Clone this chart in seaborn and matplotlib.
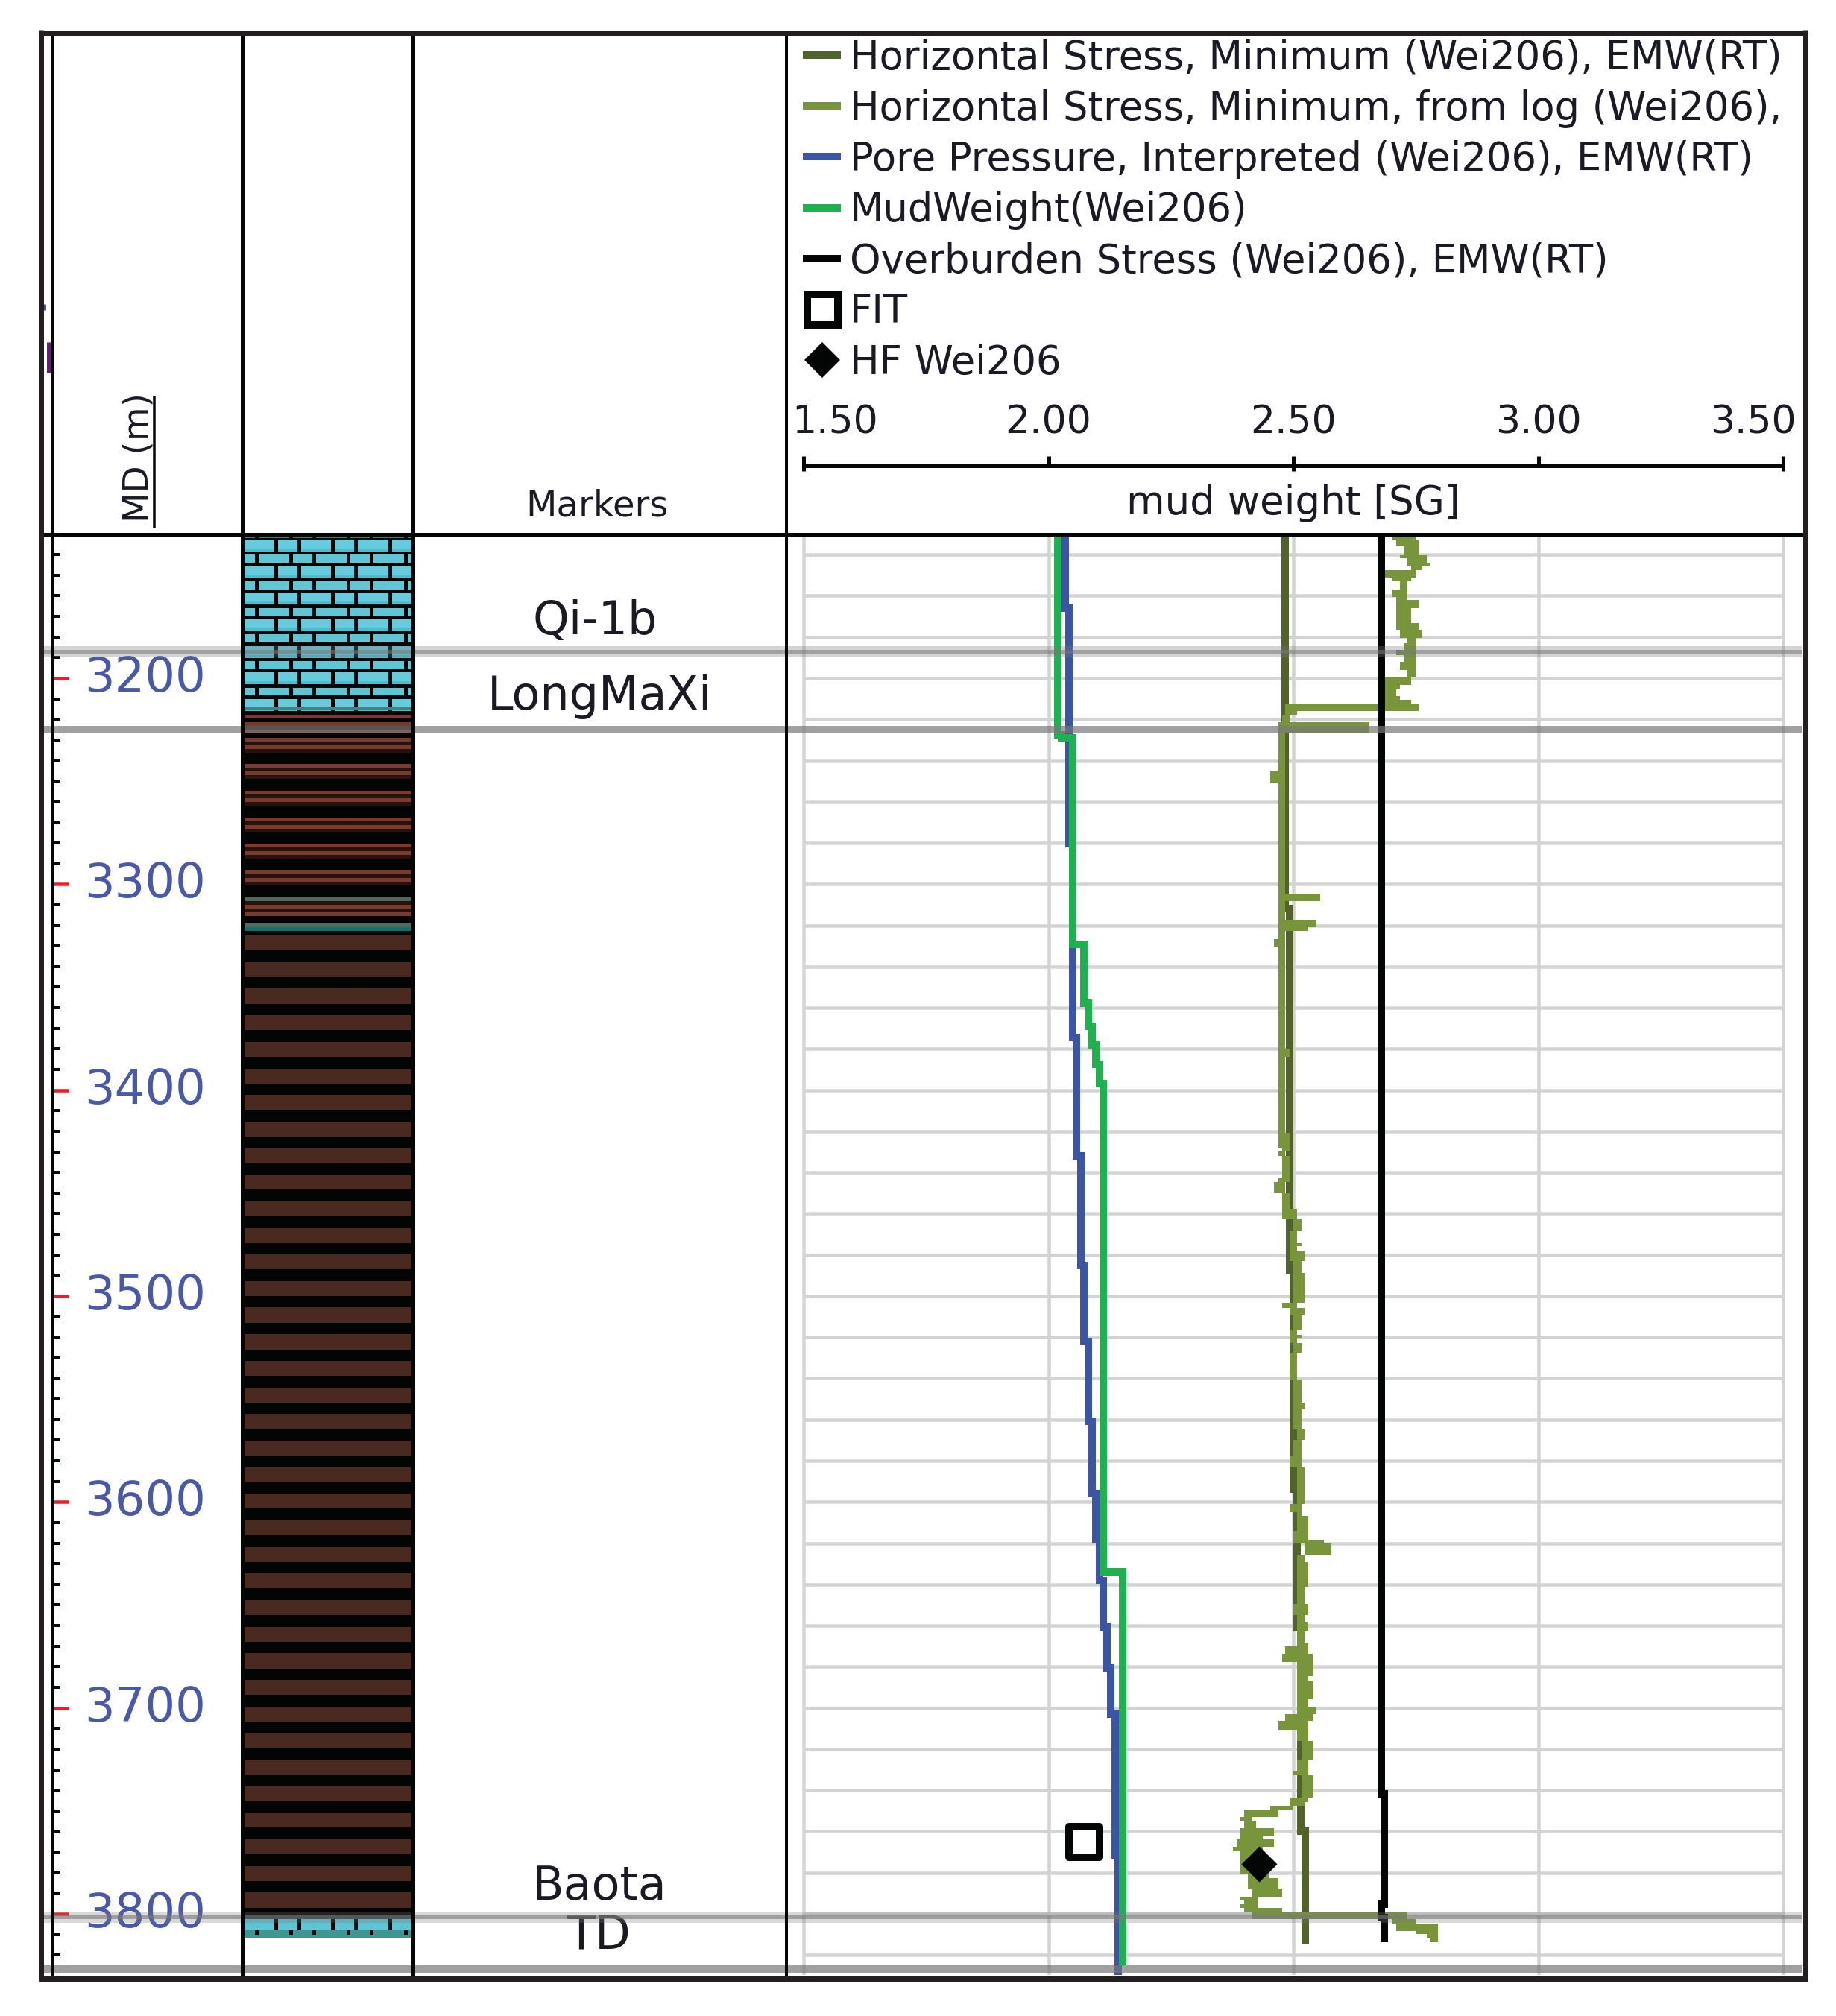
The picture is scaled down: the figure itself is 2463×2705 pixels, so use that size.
import numpy as np
import matplotlib
matplotlib.use('Agg')
import matplotlib.pyplot as plt
from matplotlib.lines import Line2D
import seaborn as sns

W, H = 2463, 2705
PX = 0.72  # one pixel in points at dpi 100

# depth scale of the tracks
depth_ticks = [3200, 3300, 3400, 3500, 3600, 3700, 3800]
depth_minor = list(range(3140, 3830, 10))
depth_top, depth_bottom = 3130.15, 3829.7
grid_depths = list(range(3140, 3830, 20))
sg_ticks = [1.50, 2.00, 2.50, 3.00, 3.50]
sg_labels = ['1.50', '2.00', '2.50', '3.00', '3.50']

# formation tops: name, depth of the label
marker_names = ['Qi-1b', 'LongMaXi', 'Baota', 'TD']
marker_label_depths = [3172.5, 3209.1, 3787.0, 3811.0]
marker_label_x = [.487, .5, .5, .497]
marker_line_depths = [3187.0, 3225.0, 3801.6, 3826.8]

# curves, values hold down to the next depth
green_depth = [3130.0, 3227.4, 3229.0, 3329.2, 3357.8, 3369.0, 3378.0, 3387.5, 3396.7, 3633.8]
green_sg = [2.019, 2.026, 2.049, 2.073, 2.081, 2.089, 2.096, 2.104, 2.112, 2.151]
green_end = 3825.0

blue_depth = [3130.0, 3166.0, 3280.4, 3374.4, 3431.8, 3485.2, 3522.1, 3560.7, 3595.8, 3618.3,
              3638.3, 3660.7, 3680.6, 3702.9, 3771.4]
blue_sg = [2.034, 2.042, 2.049, 2.057, 2.066, 2.073, 2.081, 2.089, 2.097, 2.104,
           2.112, 2.120, 2.127, 2.136, 2.143]
blue_end = 3829.7

black_depth = [3130.0, 3741.9, 3795.5, 3802.0]
black_sg = [2.679, 2.686, 2.679, 2.686]
black_end = 3813.7

dark_depth = [3130.0, 3311.9, 3487.2, 3593.8, 3661.0, 3760.0]
dark_sg = [2.484, 2.492, 2.500, 2.507, 2.515, 2.524]
dark_end = 3814.4

# log curve is noisy, kept as low/high per depth interval
olive_depth = [3130.0, 3132.9, 3136.1, 3140.2, 3141.8, 3144.2, 3145.8, 3147.4, 3151.1, 3153.1,
               3157.1, 3160.4, 3162.0, 3166.0, 3170.0, 3173.3, 3176.5, 3180.6, 3183.0, 3186.2,
               3188.6, 3191.9, 3195.9, 3199.1, 3203.2, 3205.6, 3208.8, 3210.4, 3212.2, 3215.8,
               3217.7, 3221.4, 3226.6, 3245.2, 3250.8, 3304.5, 3308.2, 3317.1, 3320.8, 3322.7,
               3326.5, 3330.2, 3379.7, 3383.8, 3420.6, 3428.2, 3429.8, 3431.8, 3442.7, 3444.8,
               3450.0, 3457.6, 3462.9, 3468.6, 3474.2, 3475.9, 3478.3, 3483.1, 3488.8, 3503.3,
               3505.8, 3509.0, 3516.3, 3518.7, 3520.3, 3522.7, 3527.6, 3540.5, 3551.8, 3555.0,
               3564.7, 3569.9, 3577.7, 3582.8, 3601.1, 3605.1, 3606.7, 3614.0, 3618.3, 3620.2,
               3625.5, 3629.2, 3641.3, 3649.6, 3654.9, 3658.7, 3662.5, 3668.2, 3670.1, 3673.8,
               3677.6, 3684.4, 3686.7, 3695.8, 3699.5, 3702.9, 3706.3, 3710.6, 3716.2, 3725.2,
               3730.5, 3732.8, 3743.4, 3745.7, 3747.6, 3749.4, 3752.8, 3754.7, 3758.5, 3762.3,
               3763.8, 3767.6, 3769.5, 3772.9, 3780.4, 3782.7, 3788.0, 3791.8, 3793.3, 3795.5,
               3797.1, 3799.2, 3802.5, 3804.6, 3808.4, 3809.9, 3811.9, 3813.7]
olive_low = [2.702, 2.710, 2.725, 2.718, 2.733, 2.733, 2.741, 2.687, 2.702, 2.718,
             2.702, 2.710, 2.710, 2.710, 2.710, 2.710, 2.718, 2.733, 2.725, 2.710,
             2.725, 2.718, 2.733, 2.687, 2.687, 2.687, 2.687, 2.687, 2.484, 2.484,
             2.477, 2.470, 2.470, 2.453, 2.470, 2.470, 2.470, 2.470, 2.470, 2.470,
             2.461, 2.470, 2.470, 2.470, 2.470, 2.477, 2.469, 2.477, 2.470, 2.461,
             2.477, 2.477, 2.500, 2.493, 2.493, 2.493, 2.493, 2.500, 2.500, 2.477,
             2.493, 2.500, 2.493, 2.493, 2.493, 2.500, 2.493, 2.500, 2.500, 2.500,
             2.508, 2.500, 2.493, 2.508, 2.493, 2.508, 2.508, 2.500, 2.500, 2.523,
             2.508, 2.508, 2.508, 2.500, 2.508, 2.508, 2.508, 2.508, 2.484, 2.477,
             2.508, 2.508, 2.508, 2.508, 2.508, 2.484, 2.470, 2.508, 2.516, 2.508,
             2.500, 2.516, 2.493, 2.493, 2.453, 2.400, 2.392, 2.400, 2.392, 2.392,
             2.384, 2.376, 2.392, 2.392, 2.407, 2.407, 2.416, 2.392, 2.400, 2.392,
             2.400, 2.416, 2.701, 2.710, 2.749, 2.772, 2.780, 2.780]
olive_high = [2.749, 2.756, 2.756, 2.772, 2.772, 2.780, 2.763, 2.749, 2.740, 2.733,
              2.733, 2.733, 2.756, 2.740, 2.740, 2.756, 2.763, 2.749, 2.749, 2.749,
              2.749, 2.749, 2.749, 2.740, 2.718, 2.710, 2.718, 2.740, 2.756, 2.507,
              2.492, 2.655, 2.484, 2.484, 2.484, 2.555, 2.484, 2.547, 2.530, 2.484,
              2.484, 2.484, 2.492, 2.484, 2.493, 2.493, 2.484, 2.493, 2.493, 2.484,
              2.493, 2.508, 2.516, 2.508, 2.516, 2.508, 2.523, 2.516, 2.523, 2.508,
              2.523, 2.516, 2.508, 2.516, 2.508, 2.516, 2.508, 2.516, 2.523, 2.516,
              2.523, 2.516, 2.516, 2.523, 2.516, 2.516, 2.531, 2.531, 2.562, 2.577,
              2.523, 2.531, 2.523, 2.531, 2.523, 2.531, 2.523, 2.531, 2.531, 2.539,
              2.539, 2.531, 2.539, 2.531, 2.547, 2.539, 2.531, 2.531, 2.539, 2.531,
              2.531, 2.539, 2.531, 2.523, 2.500, 2.470, 2.416, 2.424, 2.461, 2.438,
              2.461, 2.438, 2.422, 2.443, 2.450, 2.470, 2.477, 2.429, 2.429, 2.429,
              2.477, 2.733, 2.749, 2.795, 2.795, 2.795, 2.795, 2.795]

fit_sg, fit_depth = [2.073], [3764.9]
hf_sg, hf_depth = [2.430], [3775.9]

# the second label runs into the frame in the original, only this part shows
legend_labels = ['Horizontal Stress, Minimum (Wei206), EMW(RT)',
                 'Horizontal Stress, Minimum, from log (Wei206),',
                 'Pore Pressure, Interpreted (Wei206), EMW(RT)',
                 'MudWeight(Wei206)',
                 'Overburden Stress (Wei206), EMW(RT)',
                 'FIT',
                 'HF Wei206']

# lithology column
limestone_a_tops = [3132.7, 3145.6, 3158.5, 3171.4, 3184.3, 3197.2, 3210.1]
limestone_b_tops = [3130.2, 3140.1, 3153.0, 3165.9, 3178.8, 3191.7, 3204.6]
stripe_tops = [3217.7, 3221.5, 3225.1, 3229.0, 3232.6, 3241.7, 3245.4, 3254.7, 3258.3, 3267.6,
               3271.2, 3280.5, 3284.1, 3293.4, 3297.0, 3309.9, 3313.6]
stripe_back_tops = [3229.0, 3241.7, 3254.7, 3267.6, 3280.5, 3293.4, 3306.3]
shale_tops = [3324.9, 3337.8, 3350.7, 3363.6, 3376.5, 3389.5, 3402.4, 3415.3, 3428.2, 3441.1,
              3454.0, 3466.9, 3479.8, 3492.7, 3505.6, 3518.6, 3531.5, 3544.4, 3557.3, 3570.2,
              3583.1, 3596.0, 3608.9, 3621.8, 3634.7, 3647.7, 3660.6, 3673.5, 3686.4, 3699.3,
              3712.2, 3725.1, 3738.0, 3750.9, 3763.8, 3776.8, 3789.7]
brick_a = [(0, .183), (.205, .318), (.340, .521), (.544, .658), (.681, .862), (.884, 1)]
brick_b = [(0, .068), (.091, .272), (.294, .409), (.431, .614), (.636, .750), (.773, .954), (.977, 1)]

COL_DARK = '#51632b'
COL_OLIVE = '#78953b'
COL_BLUE = '#3b55a5'
COL_GREEN = '#1fb050'
COL_BLACK = '#040606'
COL_FRAME = '#231f20'
COL_GRID = '#d2d4d3'
COL_DEPTH = '#4a58a8'
COL_TEXT = '#1a1a24'
COL_LINE = '#787878'

sns.set_theme(style='white')
fig = plt.figure(figsize=(W / 100, H / 100), dpi=100)
fig.patch.set_facecolor('white')


def px_axes(x0, y0, x1, y1, **kw):
    return fig.add_axes([x0 / W, 1 - y1 / H, (x1 - x0) / W, (y1 - y0) / H], **kw)


def step_xy(depth, sg, end):
    y = np.repeat(list(depth) + [end], 2)[1:-1]
    x = np.repeat(sg, 2)
    return x, y


TRACK_T, TRACK_B = 717, 2650

# depth track
ax_depth = px_axes(70, TRACK_T, 325, TRACK_B)
ax_depth.set_xlim(0, 1)
ax_depth.set_ylim(depth_bottom, depth_top)
for s in ax_depth.spines.values():
    s.set_visible(False)
ax_depth.set_xticks([])
ax_depth.set_yticks(depth_ticks)
ax_depth.set_yticks(depth_minor, minor=True)
ax_depth.set_yticklabels([])
ax_depth.tick_params(axis='y', which='major', left=True, direction='in', length=22 * PX, width=4.5 * PX, color='#ee1c25')
ax_depth.tick_params(axis='y', which='minor', left=True, direction='in', length=11 * PX, width=4 * PX, color=COL_BLACK)
for d in depth_ticks:
    ax_depth.text(.49, d, str(d), ha='center', va='center', color=COL_DEPTH, fontsize=64 * PX)

# lithology
ax_lith = px_axes(327, TRACK_T, 552, TRACK_B)
ax_lith.set_xlim(0, 1)
ax_lith.set_ylim(depth_bottom, depth_top)
ax_lith.axis('off')
ax_lith.barh(depth_top, 1, height=3811.6 - depth_top, align='edge', color='#030504', lw=0)


def brick_row(top, height, pattern, color):
    for a, b in pattern:
        ax_lith.barh(top, b - a, left=a, height=height, align='edge', color=color, lw=0)


for t in limestone_a_tops:
    brick_row(t, 4.4, brick_a, '#66cbdc')
    brick_row(t + 4.4, 1.4, brick_a, '#4fbccb')
for t in limestone_b_tops[1:]:
    brick_row(t, 3.9, brick_b, '#5fc6d6')
brick_row(limestone_b_tops[0], 1.6, brick_b, '#178a8a')
ax_lith.barh(3213.9, 1, height=1.8, align='edge', color='#3d8683', lw=0)
ax_lith.barh(stripe_back_tops, 1, height=7.3, align='edge', color='#27120e', lw=0)
ax_lith.barh(stripe_tops, 1, height=1.75, align='edge', color='#7a3b2e', lw=0)
ax_lith.barh([3306.3, 3319.2], 1, height=1.85, align='edge', color='#4f6b5e', lw=0)
ax_lith.barh([3321.0], 1, height=1.85, align='edge', color='#12706c', lw=0)
ax_lith.barh(shale_tops, 1, height=7.3, align='edge', color='#4a2a20', lw=0)
brick_row(3802.6, 5.4, brick_a, '#5ec5d5')
brick_row(3808.0, 2.1, brick_b, '#3f958f')
ax_lith.barh(3810.1, 1, height=1.5, align='edge', color='#3f958f', lw=0)

# markers track
ax_mark = px_axes(554, TRACK_T, 1055, TRACK_B)
ax_mark.set_xlim(0, 1)
ax_mark.set_ylim(depth_bottom, depth_top)
ax_mark.axis('off')
for name, d, xp in zip(marker_names, marker_label_depths, marker_label_x):
    ax_mark.text(xp, d, name, ha='center', va='center', color=COL_TEXT, fontsize=62 * PX)

# mud weight track, 1.5 at px 1078 and 3.5 at px 2392
ax_mud = px_axes(1057, TRACK_T, 2418, TRACK_B)
sg_left = 1.5 - (1078 - 1057) / 657
sg_right = 3.5 + (2418 - 2392) / 657
ax_mud.set_xlim(sg_left, sg_right)
ax_mud.set_ylim(depth_bottom, depth_top)
ax_mud.hlines(grid_depths, 1.5, 3.5, color=COL_GRID, lw=4.5 * PX, zorder=1)
ax_mud.vlines(sg_ticks, depth_top, depth_bottom, color=COL_GRID, lw=4.5 * PX, zorder=1)

line_kw = dict(orient='y', sort=False, estimator=None, errorbar=None, ax=ax_mud, legend=False,
               linewidth=10 * PX, solid_joinstyle='miter', solid_capstyle='butt')

x, y = step_xy(dark_depth, dark_sg, dark_end)
sns.lineplot(x=x, y=y, color=COL_DARK, zorder=2, **line_kw)
ax_mud.fill_betweenx(olive_depth, olive_low, olive_high, step='post', color=COL_OLIVE, lw=0, zorder=3)
x, y = step_xy(blue_depth, blue_sg, blue_end)
sns.lineplot(x=x, y=y, color=COL_BLUE, zorder=4, **line_kw)
x, y = step_xy(green_depth, green_sg, green_end)
sns.lineplot(x=x, y=y, color=COL_GREEN, zorder=5, **line_kw)
x, y = step_xy(black_depth, black_sg, black_end)
sns.lineplot(x=x, y=y, color=COL_BLACK, zorder=6, **line_kw)
sns.scatterplot(x=fit_sg, y=fit_depth, marker='s', s=(41 * PX) ** 2, facecolor='white',
                edgecolor=COL_BLACK, linewidth=10 * PX, ax=ax_mud, zorder=7, legend=False)
sns.scatterplot(x=hf_sg, y=hf_depth, marker='D', s=(34 * PX) ** 2, color=COL_BLACK,
                edgecolor=COL_BLACK, linewidth=0, ax=ax_mud, zorder=7, legend=False)
ax_mud.set_xlabel('')
ax_mud.set_ylabel('')
ax_mud.axis('off')

# grey formation lines run through every track
ax_over = px_axes(58, TRACK_T, 2418, TRACK_B)
ax_over.set_xlim(0, 1)
ax_over.set_ylim(depth_bottom, depth_top)
ax_over.axis('off')
ax_over.patch.set_alpha(0)
ax_over.hlines(marker_line_depths[0], 0, 1, color=COL_LINE, lw=15 * PX, alpha=.32)
ax_over.hlines(marker_line_depths[0], 0, 1, color=COL_LINE, lw=5 * PX, alpha=.55)
ax_over.hlines(marker_line_depths[1], 0, 1, color=COL_LINE, lw=10 * PX, alpha=.7)
ax_over.hlines(marker_line_depths[2], 0, 1, color=COL_LINE, lw=15 * PX, alpha=.28)
ax_over.hlines(marker_line_depths[2], 0, 1, color=COL_LINE, lw=5 * PX, alpha=.6)
ax_over.hlines(marker_line_depths[3], 0, 1, color=COL_LINE, lw=10 * PX, alpha=.7)

# header of the mud weight track
ax_head = px_axes(1057, 43, 2418, TRACK_T)
ax_head.set_xlim(sg_left, sg_right)
ax_head.set_ylim(TRACK_T, 43)
ax_head.axis('off')
ax_head.hlines(625, 1.5, 3.5, color=COL_BLACK, lw=5 * PX)
for v, low in zip(sg_ticks, [632, 625, 632, 625, 632]):
    ax_head.vlines(v, 612, low, color=COL_BLACK, lw=5 * PX)
label_x = [1.564, 2.0, 2.5, 3.0, 3.439]
for v, s in zip(label_x, sg_labels):
    ax_head.text(v, 568, s, ha='center', va='center', color=COL_TEXT, fontsize=52 * PX)
ax_head.text(2.5, 675, 'mud weight [SG]', ha='center', va='center', color=COL_TEXT, fontsize=53 * PX)

# page level: frame, column lines, header texts
ax_page = fig.add_axes([0, 0, 1, 1])
ax_page.set_xlim(0, W)
ax_page.set_ylim(H, 0)
ax_page.axis('off')
ax_page.patch.set_alpha(0)
for xc, lw in [(70, 5), (325, 5), (554, 5), (1055, 4)]:
    ax_page.vlines(xc, 43, 2655, color=COL_BLACK, lw=lw * PX)
ax_page.hlines(717, 55, 2421, color=COL_BLACK, lw=5 * PX)
ax_page.hlines([43.5, 2655], 52, 2425, color=COL_FRAME, lw=7 * PX)
ax_page.vlines([55, 2421.5], 40, 2658, color=COL_FRAME, lw=7 * PX)
ax_page.vlines(64.5, 459, 500, color='#6a1b7a', lw=5 * PX)
ax_page.vlines(60, 408, 416, color='#3b55a5', lw=3 * PX)
ax_page.vlines(207, 531, 709, color=COL_BLACK, lw=3.5 * PX)
ax_page.text(186, 614, 'MD (m)', rotation=90, ha='center', va='center', color=COL_TEXT, fontsize=47 * PX)
ax_page.text(801, 679, 'Markers', ha='center', va='center', color=COL_TEXT, fontsize=48 * PX)

handles = [Line2D([], [], color=COL_DARK, lw=10 * PX, solid_capstyle='butt'),
           Line2D([], [], color=COL_OLIVE, lw=10 * PX, solid_capstyle='butt'),
           Line2D([], [], color=COL_BLUE, lw=10 * PX, solid_capstyle='butt'),
           Line2D([], [], color=COL_GREEN, lw=10 * PX, solid_capstyle='butt'),
           Line2D([], [], color=COL_BLACK, lw=10 * PX, solid_capstyle='butt'),
           Line2D([], [], ls='', marker='s', ms=41 * PX, mew=10 * PX, mfc='white', mec=COL_BLACK),
           Line2D([], [], ls='', marker='D', ms=34 * PX, mew=0, color=COL_BLACK)]
leg = ax_page.legend(handles, legend_labels, loc='upper left', bbox_to_anchor=(1077, 51.5),
                     bbox_transform=ax_page.transData, frameon=False, fontsize=52.7 * PX,
                     handlelength=.97, handletextpad=.23, labelspacing=.307, borderpad=0,
                     borderaxespad=0, numpoints=1, labelcolor=COL_TEXT)

fig.savefig('out.png', dpi=100, facecolor='white')
